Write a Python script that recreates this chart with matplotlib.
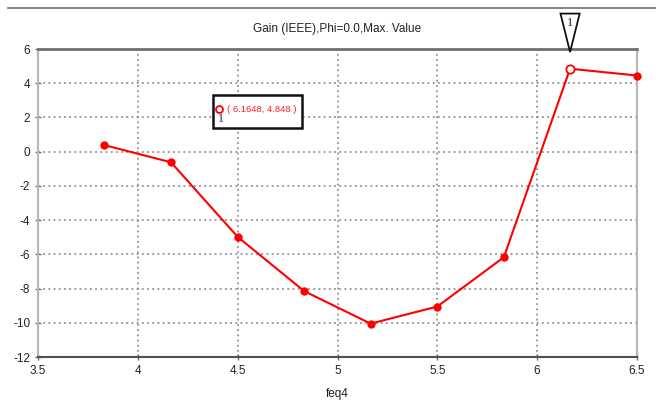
import matplotlib.pyplot as plt
from matplotlib.patches import Polygon, Rectangle
from matplotlib.lines import Line2D

plt.rcParams["font.family"] = ["Liberation Sans Narrow", "Liberation Sans", "DejaVu Sans"]
plt.rcParams["axes.unicode_minus"] = False

# sweep results
freq = [3.833, 4.166, 4.5, 4.833, 5.166, 5.5, 5.833, 6.1648, 6.5]
gain = [0.38, -0.62, -4.98, -8.15, -10.05, -9.05, -6.17, 4.848, 4.45]
x_ticks = [3.5, 4, 4.5, 5, 5.5, 6, 6.5]
y_ticks = [-12, -10, -8, -6, -4, -2, 0, 2, 4, 6]
marker_idx = 7

fig = plt.figure(figsize=(6.56, 4.07), dpi=100)
ax = fig.add_axes([38 / 656, 50 / 407, 599 / 656, 308 / 407])

ax.plot(freq, gain, color="#ff0000", lw=1.5, marker="o", ms=5,
        markevery=[i for i in range(len(freq)) if i != marker_idx], clip_on=False, zorder=3)
ax.plot(freq[marker_idx], gain[marker_idx], "o", ms=6, mfc="white", mec="#ff0000",
        mew=1.3, zorder=4, clip_on=False)

ax.set_xlim(3.5, 6.5)
ax.set_ylim(-12, 6)
ax.set_xticks(x_ticks)
ax.set_xticklabels([f"{t:g}" for t in x_ticks])
ax.set_yticks(y_ticks)
ax.grid(True, color="#808080", linestyle=(0, (1.2, 2.2)), linewidth=1.1)
ax.tick_params(direction="inout", length=5, width=1, color="#707070",
               labelsize=8.5, labelcolor="#222222", pad=3)

for side, c, w in [("left", "#b8b8b8", 1.6), ("right", "#b8b8b8", 1.6),
                   ("top", "#707070", 2.0), ("bottom", "#505050", 1.5)]:
    ax.spines[side].set_color(c)
    ax.spines[side].set_linewidth(w)

ax.set_title("Gain (IEEE),Phi=0.0,Max. Value", fontsize=8.5, color="#222222", pad=12)
ax.set_xlabel("feq4", fontsize=8.5, color="#222222", labelpad=8)

# marker flag above the peak
mx = freq[marker_idx]
flag = Polygon([(mx - 0.048, 1.115), (mx + 0.048, 1.115), (mx, 0.99)],
               closed=True, facecolor="white", edgecolor="#111111", lw=1.3,
               transform=ax.get_xaxis_transform(), clip_on=False, zorder=5)
ax.add_patch(flag)
ax.text(mx, 1.085, "1", transform=ax.get_xaxis_transform(), ha="center", va="center",
        fontsize=9, color="#222222", family=["Liberation Serif", "DejaVu Serif"], zorder=6)

# marker readout box
box = Rectangle((4.375, 1.38), 0.447, 1.93, facecolor="white", edgecolor="#111111",
                lw=1.8, zorder=5)
ax.add_patch(box)
ax.plot(4.405, 2.5, "o", ms=5, mfc="white", mec="#ff0000", mew=1.3, zorder=6)
ax.text(4.418, 1.9, "1", fontsize=8.5, color="#1a2a50", ha="center", va="center",
        family=["Liberation Serif", "DejaVu Serif"], zorder=6)
ax.text(4.447, 2.45, f"( {freq[marker_idx]}, {gain[marker_idx]} )", fontsize=6.8,
        color="#ff2020", ha="left", va="center", zorder=6)

fig.add_artist(Line2D([8 / 656, 1], [1 - 8 / 407, 1 - 8 / 407], color="#707070", lw=1.2))

fig.savefig("out.png", dpi=100)
